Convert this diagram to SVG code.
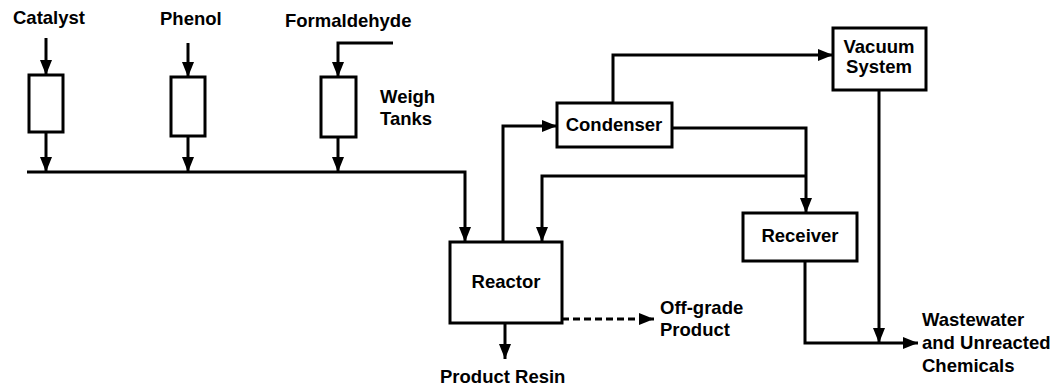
<svg xmlns="http://www.w3.org/2000/svg" width="1064" height="387" viewBox="0 0 1064 387">
<style>
.bg{fill:#fff}
.box{fill:#fff;stroke:#000;stroke-width:3}
.ln{fill:none;stroke:#000;stroke-width:3}
.dash{fill:none;stroke:#000;stroke-width:3;stroke-dasharray:7 4}
text{font-family:"Liberation Sans",Arial,sans-serif;font-weight:bold;font-size:18.5px;fill:#000}
.mid{text-anchor:middle}
</style>
<defs>
<marker id="ah" markerUnits="userSpaceOnUse" markerWidth="16" markerHeight="12" refX="15" refY="6" orient="auto">
<path d="M0,0 L15,6 L0,12 z" fill="#000"/>
</marker>
</defs>
<rect class="bg" x="0" y="0" width="1064" height="387"/>
<g id="connectors">
<path class="ln" d="M46,38 V75" marker-end="url(#ah)"/>
<path class="ln" d="M46,132 V172" marker-end="url(#ah)"/>
<path class="ln" d="M188,43 V77" marker-end="url(#ah)"/>
<path class="ln" d="M188,136 V172" marker-end="url(#ah)"/>
<path class="ln" d="M393,43 H338 V77" marker-end="url(#ah)"/>
<path class="ln" d="M338,137 V172" marker-end="url(#ah)"/>
<path class="ln" d="M27,172 H465 V242" marker-end="url(#ah)"/>
<path class="ln" d="M503,242 V126 H557" marker-end="url(#ah)"/>
<path class="ln" d="M613,103 V55 H833" marker-end="url(#ah)"/>
<path class="ln" d="M672,128 H806 V213" marker-end="url(#ah)"/>
<path class="ln" d="M806,176 H542 V242" marker-end="url(#ah)"/>
<path class="dash" d="M562,319 H654" marker-end="url(#ah)"/>
<path class="ln" d="M505,323 V359" marker-end="url(#ah)"/>
<path class="ln" d="M805,261 V343 H918" marker-end="url(#ah)"/>
<path class="ln" d="M879,90 V343" marker-end="url(#ah)"/>
</g>
<g id="catalyst"><text x="13" y="24">Catalyst</text></g>
<g id="phenol"><text x="160" y="25">Phenol</text></g>
<g id="formaldehyde"><text x="285" y="27">Formaldehyde</text></g>
<g id="tank-catalyst"><rect class="box" x="29" y="75" width="34" height="57"/></g>
<g id="tank-phenol"><rect class="box" x="171" y="77" width="34" height="59"/></g>
<g id="tank-formaldehyde"><rect class="box" x="321" y="77" width="35" height="60"/></g>
<g id="weigh-tanks"><text x="380" y="103">Weigh</text><text x="380" y="125">Tanks</text></g>
<g id="reactor"><rect class="box" x="450" y="242" width="112" height="81"/><text class="mid" x="506" y="288">Reactor</text></g>
<g id="condenser"><rect class="box" x="557" y="103" width="115" height="44"/><text class="mid" x="614" y="131">Condenser</text></g>
<g id="vacuum"><rect class="box" x="833" y="28" width="93" height="62"/><text class="mid" x="879" y="53">Vacuum</text><text class="mid" x="879" y="73">System</text></g>
<g id="receiver"><rect class="box" x="743" y="213" width="114" height="48"/><text class="mid" x="800" y="242">Receiver</text></g>
<g id="offgrade"><text x="660" y="314">Off-grade</text><text x="660" y="336">Product</text></g>
<g id="product-resin"><text x="440" y="383">Product Resin</text></g>
<g id="wastewater"><text x="922" y="326">Wastewater</text><text x="922" y="349">and Unreacted</text><text x="922" y="372">Chemicals</text></g>
</svg>
